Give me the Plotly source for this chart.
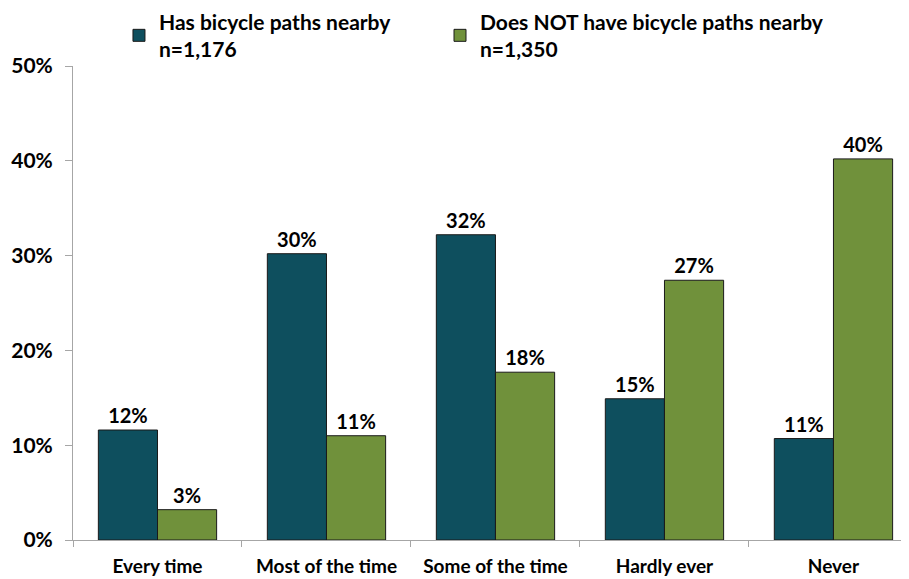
import plotly.graph_objects as go

# Data
categories = ["Every time", "Most of the time", "Some of the time", "Hardly ever", "Never"]
has_paths = [0.116, 0.302, 0.322, 0.149, 0.107]
no_paths = [0.032, 0.110, 0.177, 0.274, 0.402]
series_names = ["Has bicycle paths nearby<br>n=1,176", "Does NOT have bicycle paths nearby<br>n=1,350"]

FONT = "Lato"
DARK = "#0E4F5E"
GREEN = "#70913B"

fig = go.Figure()
for i, (name, vals, col) in enumerate([(series_names[0], has_paths, DARK), (series_names[1], no_paths, GREEN)]):
    fig.add_trace(go.Bar(
        x=categories, y=vals, name=name,
        legend="legend" if i == 0 else "legend2",
        marker=dict(color=col, line=dict(color="#1a1a1a", width=1)),
        texttemplate="<b>%{y:.0%}</b>", textposition="outside",
        textfont=dict(family=FONT, size=20, color="#000000"),
        cliponaxis=False,
    ))

legend_style = dict(
    orientation="h", yref="paper", y=1.136, xanchor="left", yanchor="top",
    font=dict(family=FONT, size=21, color="#000000", weight="bold"),
    itemwidth=30, bgcolor="rgba(0,0,0,0)",
)

# page body adds an 8px margin, so the figure is 8px smaller each way
fig.update_layout(
    width=901, height=571,
    margin=dict(l=65, r=0, t=58, b=39, autoexpand=False),
    paper_bgcolor="white", plot_bgcolor="white",
    barmode="group", bargap=0.30, bargroupgap=0,
    font=dict(family=FONT, size=16, color="#000000"),
    showlegend=True,
    legend=dict(x=0.055, **legend_style),
    legend2=dict(x=0.439, **legend_style),
)

fig.update_xaxes(
    range=[-0.5, 4.447],
    showline=True, linecolor="#a6a6a6", linewidth=1,
    ticks="outside", tickson="boundaries", ticklen=6, tickcolor="#a6a6a6",
    tickfont=dict(family=FONT, size=19, color="#000000", weight="bold"),
    ticklabelstandoff=9,
    showgrid=False,
)
fig.update_yaxes(
    range=[0, 0.5], dtick=0.1, tickformat=".0%",
    showline=True, linecolor="#a6a6a6", linewidth=1,
    ticks="outside", ticklen=7, tickcolor="#a6a6a6",
    tickfont=dict(family=FONT, size=21, color="#000000", weight="bold"),
    ticklabelstandoff=8,
    showgrid=False, zeroline=False,
)

fig.write_html("out.html")
